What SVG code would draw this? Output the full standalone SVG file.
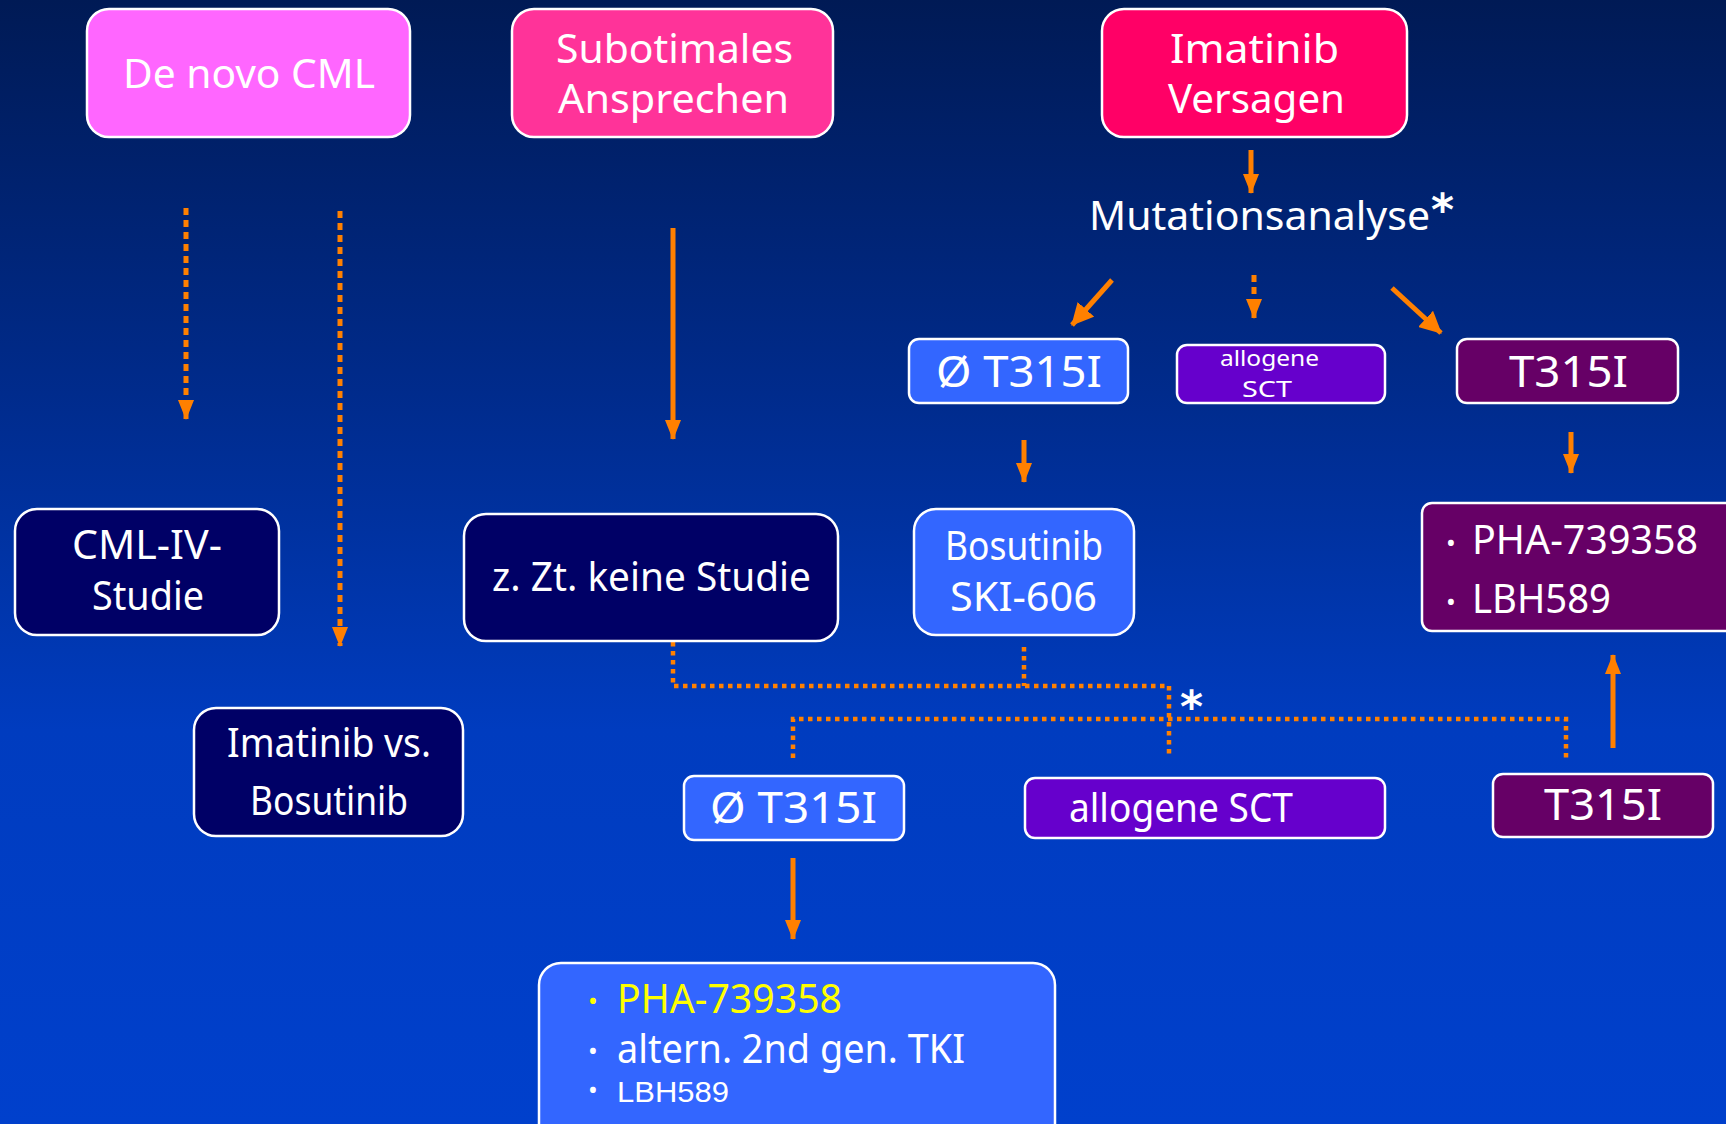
<svg xmlns="http://www.w3.org/2000/svg" width="1726" height="1124" viewBox="0 0 1726 1124">
<defs>
<linearGradient id="bg" x1="0" y1="0" x2="0" y2="1">
<stop offset="0" stop-color="#001a55"/>
<stop offset="0.35" stop-color="#002b8c"/>
<stop offset="0.65" stop-color="#003cbf"/>
<stop offset="1" stop-color="#0040cc"/>
</linearGradient>
<marker id="ah" viewBox="0 0 20 16" refX="19" refY="8" markerWidth="20" markerHeight="16" markerUnits="userSpaceOnUse" orient="auto">
<path d="M0,0 L20,8 L0,16 z" fill="#ff8000"/>
</marker>
<marker id="ah2" viewBox="0 0 20 20" refX="19" refY="10" markerWidth="22" markerHeight="22" markerUnits="userSpaceOnUse" orient="auto">
<path d="M0,0 L20,10 L0,20 z" fill="#ff8000"/>
</marker>
</defs>
<style>
.box{stroke:#ffffff;stroke-width:2.5}
.pink{fill:#ff66ff}.rose{fill:#ff3399}.red{fill:#ff0066}
.navy{fill:#000066}.lblue{fill:#3366ff}.purple{fill:#6600cc}.plum{fill:#660066}
.t{font-family:"Noto Sans","DejaVu Sans",sans-serif;fill:#ffffff;font-size:40px}
.sm{font-size:22px}
.big{font-size:44px}
.ar{font-family:"Liberation Sans",Arial,sans-serif;fill:#ffffff;font-size:29px}
.y{fill:#ffff00}
.bul{font-size:26px}
.solid{stroke:#ff8000;stroke-width:5;fill:none}
.dash{stroke:#ff8000;stroke-width:5;fill:none;stroke-dasharray:7 5}
.dot{stroke:#ff8000;stroke-width:4.5;fill:none;stroke-dasharray:4.5 4.5}
.star{font-family:"DejaVu Sans",sans-serif;fill:#ffffff;font-weight:bold;font-size:44px}
</style>
<rect x="0" y="0" width="1726" height="1124" fill="url(#bg)"/>

<g id="connectors">
<line class="dash" x1="186" y1="208" x2="186" y2="419" marker-end="url(#ah)"/>
<line class="dash" x1="340" y1="211" x2="340" y2="646" marker-end="url(#ah)"/>
<line class="solid" x1="673" y1="228" x2="673" y2="439" marker-end="url(#ah)"/>
<line class="solid" x1="1251" y1="150" x2="1251" y2="193" marker-end="url(#ah)"/>
<line class="solid" x1="1112" y1="280" x2="1072" y2="325" marker-end="url(#ah2)"/>
<line class="dash" x1="1254" y1="275" x2="1254" y2="318" marker-end="url(#ah)"/>
<line class="solid" x1="1392" y1="288" x2="1441" y2="333" marker-end="url(#ah2)"/>
<line class="solid" x1="1024" y1="440" x2="1024" y2="482" marker-end="url(#ah)"/>
<line class="solid" x1="1571" y1="432" x2="1571" y2="473" marker-end="url(#ah)"/>
<path class="dot" d="M673,642 V686 H1169 V758"/>
<path class="dot" d="M1024,647 V686"/>
<path class="dot" d="M793,758 V719 H1566 V758"/>
<line class="solid" x1="1613" y1="748" x2="1613" y2="655" marker-end="url(#ah)"/>
<line class="solid" x1="793" y1="858" x2="793" y2="939" marker-end="url(#ah)"/>
<text class="star" x="1180" y="722">*</text>
</g>

<g id="n-denovo">
<rect class="box pink" x="87" y="9" width="323" height="128" rx="22"/>
<text class="t" x="123" y="88" font-size="42" textLength="252" lengthAdjust="spacingAndGlyphs">De novo CML</text>
</g>
<g id="n-subopt">
<rect class="box rose" x="512" y="9" width="321" height="128" rx="22"/>
<text class="t" font-size="42"><tspan x="556" y="63" textLength="237" lengthAdjust="spacingAndGlyphs">Subotimales</tspan><tspan x="558" y="113" textLength="231" lengthAdjust="spacingAndGlyphs">Ansprechen</tspan></text>
</g>
<g id="n-imafail">
<rect class="box red" x="1102" y="9" width="305" height="128" rx="22"/>
<text class="t" font-size="42"><tspan x="1170" y="63" textLength="169" lengthAdjust="spacingAndGlyphs">Imatinib</tspan><tspan x="1168" y="113" textLength="177" lengthAdjust="spacingAndGlyphs">Versagen</tspan></text>
</g>
<g id="n-mutation">
<text class="t" x="1089" y="230" font-size="42" textLength="341" lengthAdjust="spacingAndGlyphs">Mutationsanalyse</text>
<text class="star" x="1431" y="225">*</text>
</g>
<g id="n-noT315I-a">
<rect class="box lblue" x="909" y="339" width="219" height="64" rx="10"/>
<text class="t big" x="936" y="387" textLength="166" lengthAdjust="spacingAndGlyphs">Ø T315I</text>
</g>
<g id="n-sct-a">
<rect class="box purple" x="1177" y="345" width="208" height="58" rx="10"/>
<text class="t sm"><tspan x="1220" y="366" textLength="99" lengthAdjust="spacingAndGlyphs">allogene</tspan><tspan x="1242" y="397" textLength="50" lengthAdjust="spacingAndGlyphs">SCT</tspan></text>
</g>
<g id="n-T315I-a">
<rect class="box plum" x="1457" y="339" width="221" height="64" rx="10"/>
<text class="t big" x="1509" y="387" textLength="119" lengthAdjust="spacingAndGlyphs">T315I</text>
</g>
<g id="n-cml4">
<rect class="box navy" x="15" y="509" width="264" height="126" rx="22"/>
<text class="t" font-size="36"><tspan x="72" y="559" textLength="150" lengthAdjust="spacingAndGlyphs">CML-IV-</tspan><tspan x="92" y="610" textLength="112" lengthAdjust="spacingAndGlyphs">Studie</tspan></text>
</g>
<g id="n-keine">
<rect class="box navy" x="464" y="514" width="374" height="127" rx="22"/>
<text class="t" x="492" y="591" font-size="39" textLength="319" lengthAdjust="spacingAndGlyphs">z. Zt. keine Studie</text>
</g>
<g id="n-bosutinib">
<rect class="box lblue" x="914" y="509" width="220" height="126" rx="22"/>
<text class="t" font-size="36"><tspan x="945" y="560" textLength="158" lengthAdjust="spacingAndGlyphs">Bosutinib</tspan><tspan x="950" y="611" textLength="147" lengthAdjust="spacingAndGlyphs">SKI-606</tspan></text>
</g>
<g id="n-pha-a">
<rect class="box plum" x="1422" y="503" width="330" height="128" rx="10"/>
<text class="t" font-size="37"><tspan class="bul" x="1446" y="552">•</tspan><tspan x="1472" y="554" textLength="226" lengthAdjust="spacingAndGlyphs">PHA-739358</tspan><tspan class="bul" x="1446" y="611">•</tspan><tspan x="1472" y="613" textLength="139" lengthAdjust="spacingAndGlyphs">LBH589</tspan></text>
</g>
<g id="n-imavsbos">
<rect class="box navy" x="194" y="708" width="269" height="128" rx="22"/>
<text class="t" font-size="38"><tspan x="227" y="757" textLength="204" lengthAdjust="spacingAndGlyphs">Imatinib vs.</tspan><tspan x="250" y="815" textLength="158" lengthAdjust="spacingAndGlyphs">Bosutinib</tspan></text>
</g>
<g id="n-noT315I-b">
<rect class="box lblue" x="684" y="776" width="220" height="64" rx="10"/>
<text class="t big" x="710" y="823" textLength="167" lengthAdjust="spacingAndGlyphs">Ø T315I</text>
</g>
<g id="n-sct-b">
<rect class="box purple" x="1025" y="778" width="360" height="60" rx="10"/>
<text class="t" x="1069" y="822" font-size="38" textLength="224" lengthAdjust="spacingAndGlyphs">allogene SCT</text>
</g>
<g id="n-T315I-b">
<rect class="box plum" x="1493" y="774" width="220" height="63" rx="10"/>
<text class="t big" x="1544" y="820" textLength="118" lengthAdjust="spacingAndGlyphs">T315I</text>
</g>
<g id="n-bottom">
<rect class="box lblue" x="539" y="963" width="516" height="190" rx="22"/>
<text class="t" font-size="35"><tspan class="bul y" x="588" y="1010">•</tspan><tspan class="y" x="617" y="1013" textLength="225" lengthAdjust="spacingAndGlyphs">PHA-739358</tspan><tspan class="bul" x="588" y="1060">•</tspan><tspan x="617" y="1063" textLength="348" lengthAdjust="spacingAndGlyphs">altern. 2nd gen. TKI</tspan><tspan class="bul" x="588" y="1099">•</tspan><tspan class="ar" x="617" y="1102" textLength="112" lengthAdjust="spacingAndGlyphs">LBH589</tspan></text>
</g>
</svg>
